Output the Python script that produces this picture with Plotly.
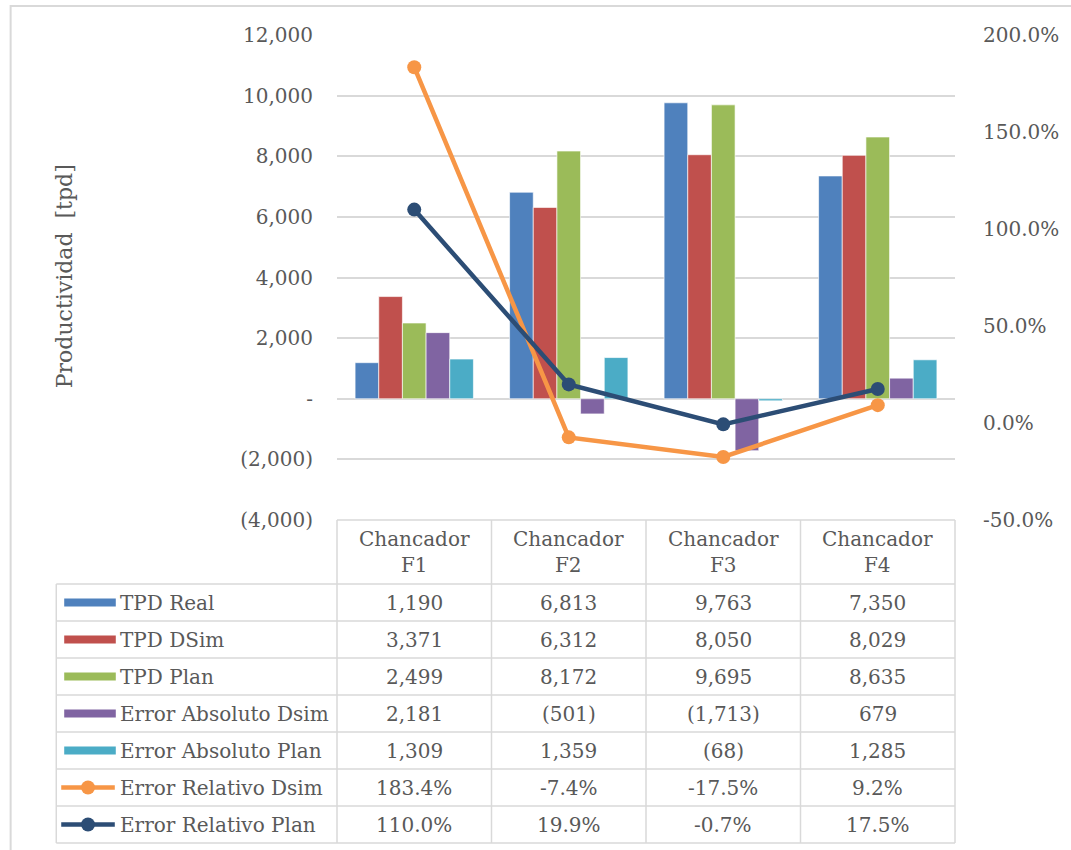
import plotly.graph_objects as go

# ---- data -------------------------------------------------------------
categories = ["Chancador F1", "Chancador F2", "Chancador F3", "Chancador F4"]
header_labels = ["Chancador<br>F1", "Chancador<br>F2", "Chancador<br>F3", "Chancador<br>F4"]

tpd_real = [1190, 6813, 9763, 7350]
tpd_dsim = [3371, 6312, 8050, 8029]
tpd_plan = [2499, 8172, 9695, 8635]
err_abs_dsim = [2181, -501, -1713, 679]
err_abs_plan = [1309, 1359, -68, 1285]
err_rel_dsim = [1.834, -0.074, -0.175, 0.092]
err_rel_plan = [1.100, 0.199, -0.007, 0.175]

left_tickvals = [-4000, -2000, 0, 2000, 4000, 6000, 8000, 10000, 12000]
left_ticktext = ["(4,000)", "(2,000)", "-", "2,000", "4,000", "6,000", "8,000", "10,000", "12,000"]
right_tickvals = [-0.5, 0.0, 0.5, 1.0, 1.5, 2.0]

# ---- styling ------------------------------------------------------------
W, H = 1071, 850
PL, PR, PT, PB = 337, 960, 35, 520          # plot area in pixels
FONT = "DejaVu Serif"
TXT = "#595959"
GRID = "#d9d9d9"
FS = 20

bar_series = [
    ("TPD Real", tpd_real, "#4F81BD"),
    ("TPD DSim", tpd_dsim, "#C0504D"),
    ("TPD Plan", tpd_plan, "#9BBB59"),
    ("Error Absoluto Dsim", err_abs_dsim, "#8064A2"),
    ("Error Absoluto Plan", err_abs_plan, "#4BACC6"),
]
line_series = [
    ("Error Relativo Dsim", err_rel_dsim, "#F79646"),
    ("Error Relativo Plan", err_rel_plan, "#2C4D75"),
]


def px2x(px):
    return (px - PL) / (PR - PL)


def py2y(py):
    return (PB - py) / (PB - PT)


def fmt_num(v):
    s = f"{abs(v):,.0f}"
    return f"({s})" if v < 0 else s


def fmt_pct(v):
    return f"{v * 100:.1f}%"


fig = go.Figure()

for name, vals, color in bar_series:
    fig.add_trace(go.Bar(
        x=categories, y=vals, name=name,
        marker=dict(color=color, line=dict(color="rgba(255,255,255,0.8)", width=0.8)),
        yaxis="y",
    ))

for name, vals, color in line_series:
    fig.add_trace(go.Scatter(
        x=categories, y=vals, name=name, mode="lines+markers",
        line=dict(color=color, width=4.5),
        marker=dict(color=color, size=14),
        yaxis="y2",
    ))

shapes = []
annotations = []

# outer chart frame
shapes.append(dict(type="rect", xref="paper", yref="paper",
                   x0=px2x(8), x1=px2x(1078), y0=py2y(6), y1=py2y(860),
                   line=dict(color=GRID, width=2), layer="below"))

# ---- data table ---------------------------------------------------------
col_edges = [PL + i * (PR - PL) / 4 for i in range(5)]
row_top = 584
row_h = 37
n_rows = len(bar_series) + len(line_series)
row_edges = [row_top + i * row_h for i in range(n_rows + 1)]
legend_left = 54
line_style = dict(color=GRID, width=1.5)

# header box
shapes.append(dict(type="line", xref="paper", yref="paper",
                   x0=px2x(PL), x1=px2x(PR), y0=py2y(PB), y1=py2y(PB), line=line_style))
for ce in col_edges:
    shapes.append(dict(type="line", xref="paper", yref="paper",
                       x0=px2x(ce), x1=px2x(ce), y0=py2y(PB), y1=py2y(row_edges[-1]), line=line_style))
shapes.append(dict(type="line", xref="paper", yref="paper",
                   x0=px2x(legend_left), x1=px2x(legend_left),
                   y0=py2y(row_edges[0]), y1=py2y(row_edges[-1]), line=line_style))
for re in row_edges:
    shapes.append(dict(type="line", xref="paper", yref="paper",
                       x0=px2x(legend_left), x1=px2x(PR), y0=py2y(re), y1=py2y(re), line=line_style))

for cat, lab in zip(categories, header_labels):
    annotations.append(dict(x=cat, xref="x", y=py2y(552), yref="paper", text=lab,
                            showarrow=False, font=dict(family=FONT, size=FS, color=TXT),
                            xanchor="center", yanchor="middle", align="center"))

rows = [(n, v, c, "bar") for n, v, c in bar_series] + [(n, v, c, "line") for n, v, c in line_series]
for i, (name, vals, color, kind) in enumerate(rows):
    cy = row_edges[i] + row_h / 2
    # legend key
    if kind == "bar":
        shapes.append(dict(type="rect", xref="paper", yref="paper",
                           x0=px2x(62), x1=px2x(114), y0=py2y(cy - 4), y1=py2y(cy + 4),
                           fillcolor=color, line=dict(width=0)))
    else:
        shapes.append(dict(type="line", xref="paper", yref="paper",
                           x0=px2x(59), x1=px2x(113), y0=py2y(cy), y1=py2y(cy),
                           line=dict(color=color, width=4.5)))
        shapes.append(dict(type="circle", xref="paper", yref="paper",
                           x0=px2x(79), x1=px2x(93), y0=py2y(cy - 7), y1=py2y(cy + 7),
                           fillcolor=color, line=dict(width=0)))
    annotations.append(dict(x=px2x(116), xref="paper", y=py2y(cy), yref="paper", text=name,
                            showarrow=False, font=dict(family=FONT, size=FS, color=TXT),
                            xanchor="left", yanchor="middle"))
    fmt = fmt_num if kind == "bar" else fmt_pct
    for cat, v in zip(categories, vals):
        annotations.append(dict(x=cat, xref="x", y=py2y(cy), yref="paper", text=fmt(v),
                                showarrow=False, font=dict(family=FONT, size=FS, color=TXT),
                                xanchor="center", yanchor="middle"))

# rotated axis title
annotations.append(dict(x=px2x(62), xref="paper", y=py2y(276), yref="paper",
                        text="Productividad  [tpd]", textangle=-90, showarrow=False,
                        font=dict(family=FONT, size=22, color=TXT),
                        xanchor="center", yanchor="middle"))

fig.update_layout(
    width=W, height=H,
    margin=dict(l=PL, r=W - PR, t=PT, b=H - PB, pad=0),
    paper_bgcolor="white", plot_bgcolor="white",
    barmode="group", bargap=0.234, bargroupgap=0,
    showlegend=False,
    font=dict(family=FONT, size=FS, color=TXT),
    xaxis=dict(showticklabels=False, showgrid=False, zeroline=False, showline=False,
               ticks="", range=[-0.5, 3.5]),
    yaxis=dict(range=[-4000, 12000], tickvals=left_tickvals, ticktext=left_ticktext,
               showgrid=True, gridcolor=GRID, gridwidth=1.5, zeroline=False, showline=False,
               ticks="", ticklabelstandoff=23, tickfont=dict(family=FONT, size=FS, color=TXT)),
    yaxis2=dict(range=[-0.5, 2.0], tickvals=right_tickvals,
                ticktext=[fmt_pct(v) for v in right_tickvals],
                overlaying="y", side="right", showgrid=False, zeroline=False, showline=False,
                ticks="", ticklabelstandoff=27, tickfont=dict(family=FONT, size=FS, color=TXT)),
    shapes=shapes,
    annotations=annotations,
)

fig.write_html("out.html")
